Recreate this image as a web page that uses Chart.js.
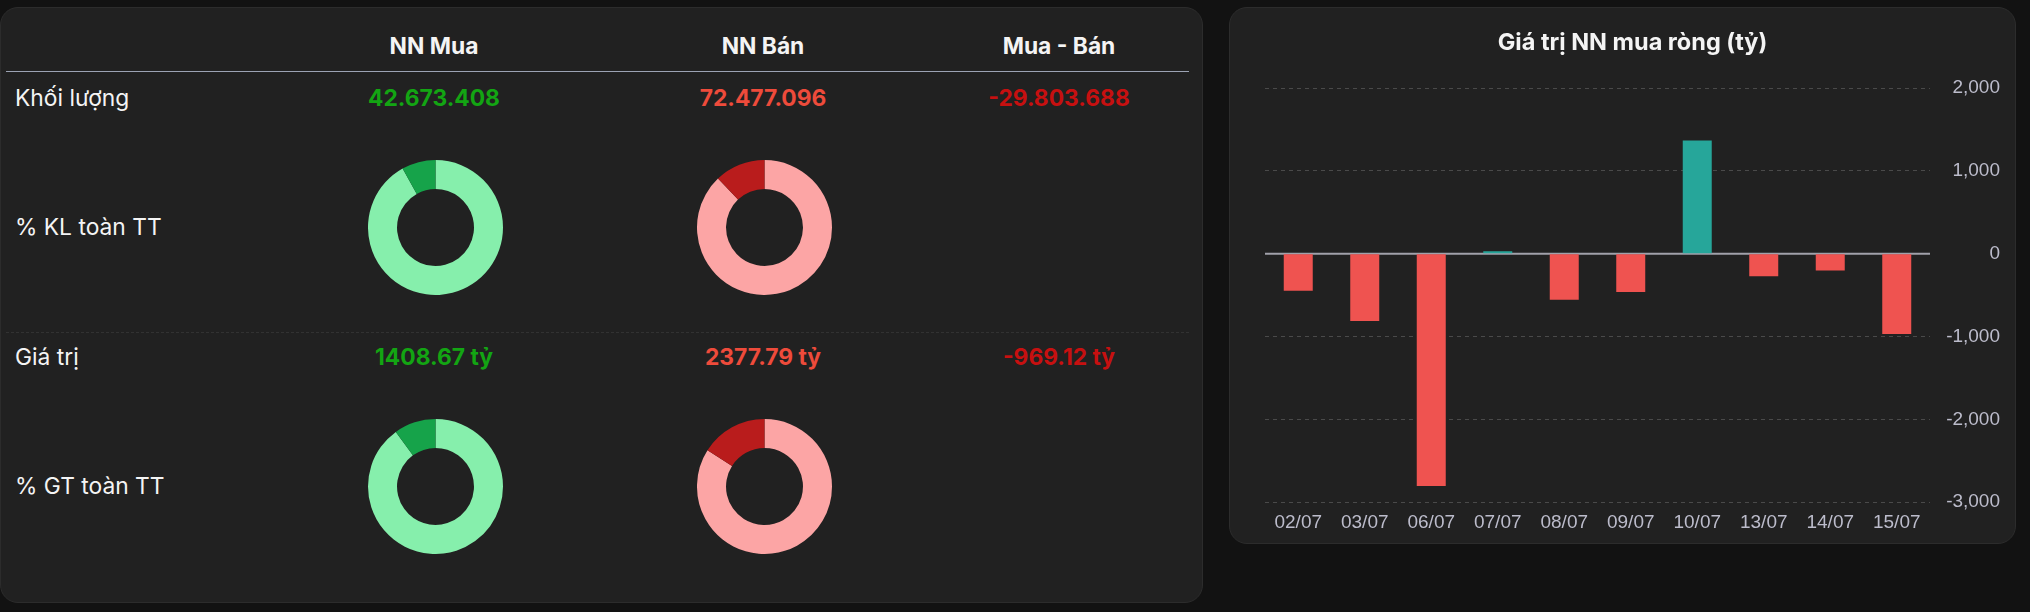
<!DOCTYPE html>
<html lang="vi">
<head>
<meta charset="utf-8">
<title>Khối ngoại</title>
<script src="https://cdn.jsdelivr.net/npm/chart.js@4.4.1/dist/chart.umd.min.js"></script>
<style>
  html, body { margin: 0; padding: 0; }
  body {
    width: 2030px; height: 612px; background: #121212; position: relative; overflow: hidden;
    font-family: Inter, "Noto Sans", sans-serif; color: #f4f4f4;
  }
  .card { position: absolute; background: #212121; border: 1px solid #2c2c2c; border-radius: 18px; box-sizing: border-box; }
  .t { position: absolute; height: 30px; line-height: 30px; font-size: 22.8px; white-space: nowrap; }
  .c { width: 300px; margin-left: -150px; text-align: center; font-weight: 700; }
  .lbl { left: 15px; }
  .rule { position: absolute; left: 6px; width: 1183px; height: 0; }
  .donut { position: absolute; width: 135px; height: 135px; }
</style>
</head>
<body>
<div class="card" style="left:0;top:7px;width:1203px;height:596px;"></div>
<div class="card" style="left:1229px;top:7px;width:787px;height:537px;"></div>

<div class="rule" style="top:71px;border-top:1px solid #9ca3b4;"></div>
<div class="rule" style="top:332px;border-top:1px dashed #323232;"></div>

<div id="table"></div>

<canvas id="klMua" class="donut" width="135" height="135" style="left:367.5px;top:159.5px"></canvas>
<canvas id="klBan" class="donut" width="135" height="135" style="left:696.5px;top:159.5px"></canvas>
<canvas id="gtMua" class="donut" width="135" height="135" style="left:367.5px;top:419px"></canvas>
<canvas id="gtBan" class="donut" width="135" height="135" style="left:696.5px;top:419px"></canvas>

<canvas id="netChart" width="787" height="537" style="position:absolute;left:1229px;top:7px"></canvas>

<script>
// table text
const columns = ["NN Mua", "NN Bán", "Mua - Bán"];
const rowLabels = ["Khối lượng", "% KL toàn TT", "Giá trị", "% GT toàn TT"];
const volumeRow = ["42.673.408", "72.477.096", "-29.803.688"];
const valueRow = ["1408.67 tỷ", "2377.79 tỷ", "-969.12 tỷ"];

// share of the whole market (%), [rest, foreign]
const klShareMua = [91.9, 8.1];
const klShareBan = [87.9, 12.1];
const gtShareMua = [90.0, 10.0];
const gtShareBan = [84.0, 16.0];

// net foreign buying value (tỷ)
const days = ["02/07", "03/07", "06/07", "07/07", "08/07", "09/07", "10/07", "13/07", "14/07", "15/07"];
const netValues = [-446, -812, -2805, 28, -556, -463, 1365, -272, -203, -969.12];
const yMin = -3000, yMax = 2000, yStep = 1000;

document.addEventListener("DOMContentLoaded", function () {
    const table = document.getElementById("table");
    const colX = [434, 763, 1059];
    const valueColors = ["#13a513", "#ee4b3b", "#c71010"];

    function addText(text, cls, x, y, color) {
        const el = document.createElement("div");
        el.className = "t " + cls;
        el.textContent = text;
        if (x !== null) el.style.left = x + "px";
        el.style.top = (y - 15) + "px";
        if (color) el.style.color = color;
        table.appendChild(el);
    }

    columns.forEach((c, i) => addText(c, "c", colX[i], 46, "#f4f4f4"));
    addText(rowLabels[0], "lbl", null, 98);
    addText(rowLabels[1], "lbl", null, 227);
    addText(rowLabels[2], "lbl", null, 357);
    addText(rowLabels[3], "lbl", null, 486);
    volumeRow.forEach((v, i) => addText(v, "c", colX[i], 98, valueColors[i]));
    valueRow.forEach((v, i) => addText(v, "c", colX[i], 357, valueColors[i]));

    // donuts
    function donut(id, data, colors) {
        new Chart(document.getElementById(id), {
            type: "doughnut",
            data: {
                labels: ["Toàn TT", "NN"],
                datasets: [{ data: data, backgroundColor: colors, borderWidth: 0 }]
            },
            options: {
                responsive: false,
                animation: false,
                cutout: "57%",
                plugins: { legend: { display: false }, tooltip: { enabled: false } }
            }
        });
    }
    donut("klMua", klShareMua, ["#86efac", "#16a34a"]);
    donut("klBan", klShareBan, ["#fca5a5", "#b91c1c"]);
    donut("gtMua", gtShareMua, ["#86efac", "#16a34a"]);
    donut("gtBan", gtShareBan, ["#fca5a5", "#b91c1c"]);

    // solid zero line on top of the dashed grid
    const zeroLine = {
        id: "zeroLine",
        beforeDatasetsDraw(chart) {
            const y = chart.scales.y.getPixelForValue(0);
            const { left, right } = chart.chartArea;
            const ctx = chart.ctx;
            ctx.save();
            ctx.strokeStyle = "#a1a1aa";
            ctx.lineWidth = 2;
            ctx.beginPath();
            ctx.moveTo(left, y);
            ctx.lineTo(right, y);
            ctx.stroke();
            ctx.restore();
        }
    };

    const tickFont = { family: "'Liberation Sans', Arial, sans-serif", size: 19 };

    new Chart(document.getElementById("netChart"), {
        type: "bar",
        data: {
            labels: days,
            datasets: [{
                label: "Giá trị NN mua ròng",
                data: netValues,
                backgroundColor: netValues.map(v => v >= 0 ? "#26a69a" : "#ef5350"),
                borderWidth: 0,
                categoryPercentage: 0.8,
                barPercentage: 0.545
            }]
        },
        options: {
            responsive: false,
            animation: false,
            layout: { padding: { left: 36, right: 16, top: 10, bottom: 0 } },
            plugins: {
                legend: { display: false },
                tooltip: { enabled: false },
                title: {
                    display: true,
                    text: "Giá trị NN mua ròng (tỷ)",
                    color: "#f4f4f4",
                    font: { family: "Inter, 'Noto Sans', sans-serif", size: 23.5, weight: "bold", lineHeight: 1.2 },
                    padding: { top: 12, bottom: 30.8 }
                }
            },
            scales: {
                x: {
                    grid: { display: false, drawTicks: false },
                    border: { display: false },
                    ticks: { color: "#bcbccb", font: tickFont, padding: 9.5, maxRotation: 0 }
                },
                y: {
                    position: "right",
                    min: yMin,
                    max: yMax,
                    grid: {
                        drawTicks: false,
                        color: ctx => ctx.tick && ctx.tick.value === 0 ? "rgba(0,0,0,0)" : "#4a4a4a",
                        lineWidth: 1
                    },
                    border: { display: false, dash: [4, 4] },
                    ticks: { stepSize: yStep, color: "#bcbccb", font: tickFont, padding: 19, crossAlign: "far" },
                    afterFit: scale => { scale.width = 70; }
                }
            }
        },
        plugins: [zeroLine]
    });
});
</script>
</body>
</html>
